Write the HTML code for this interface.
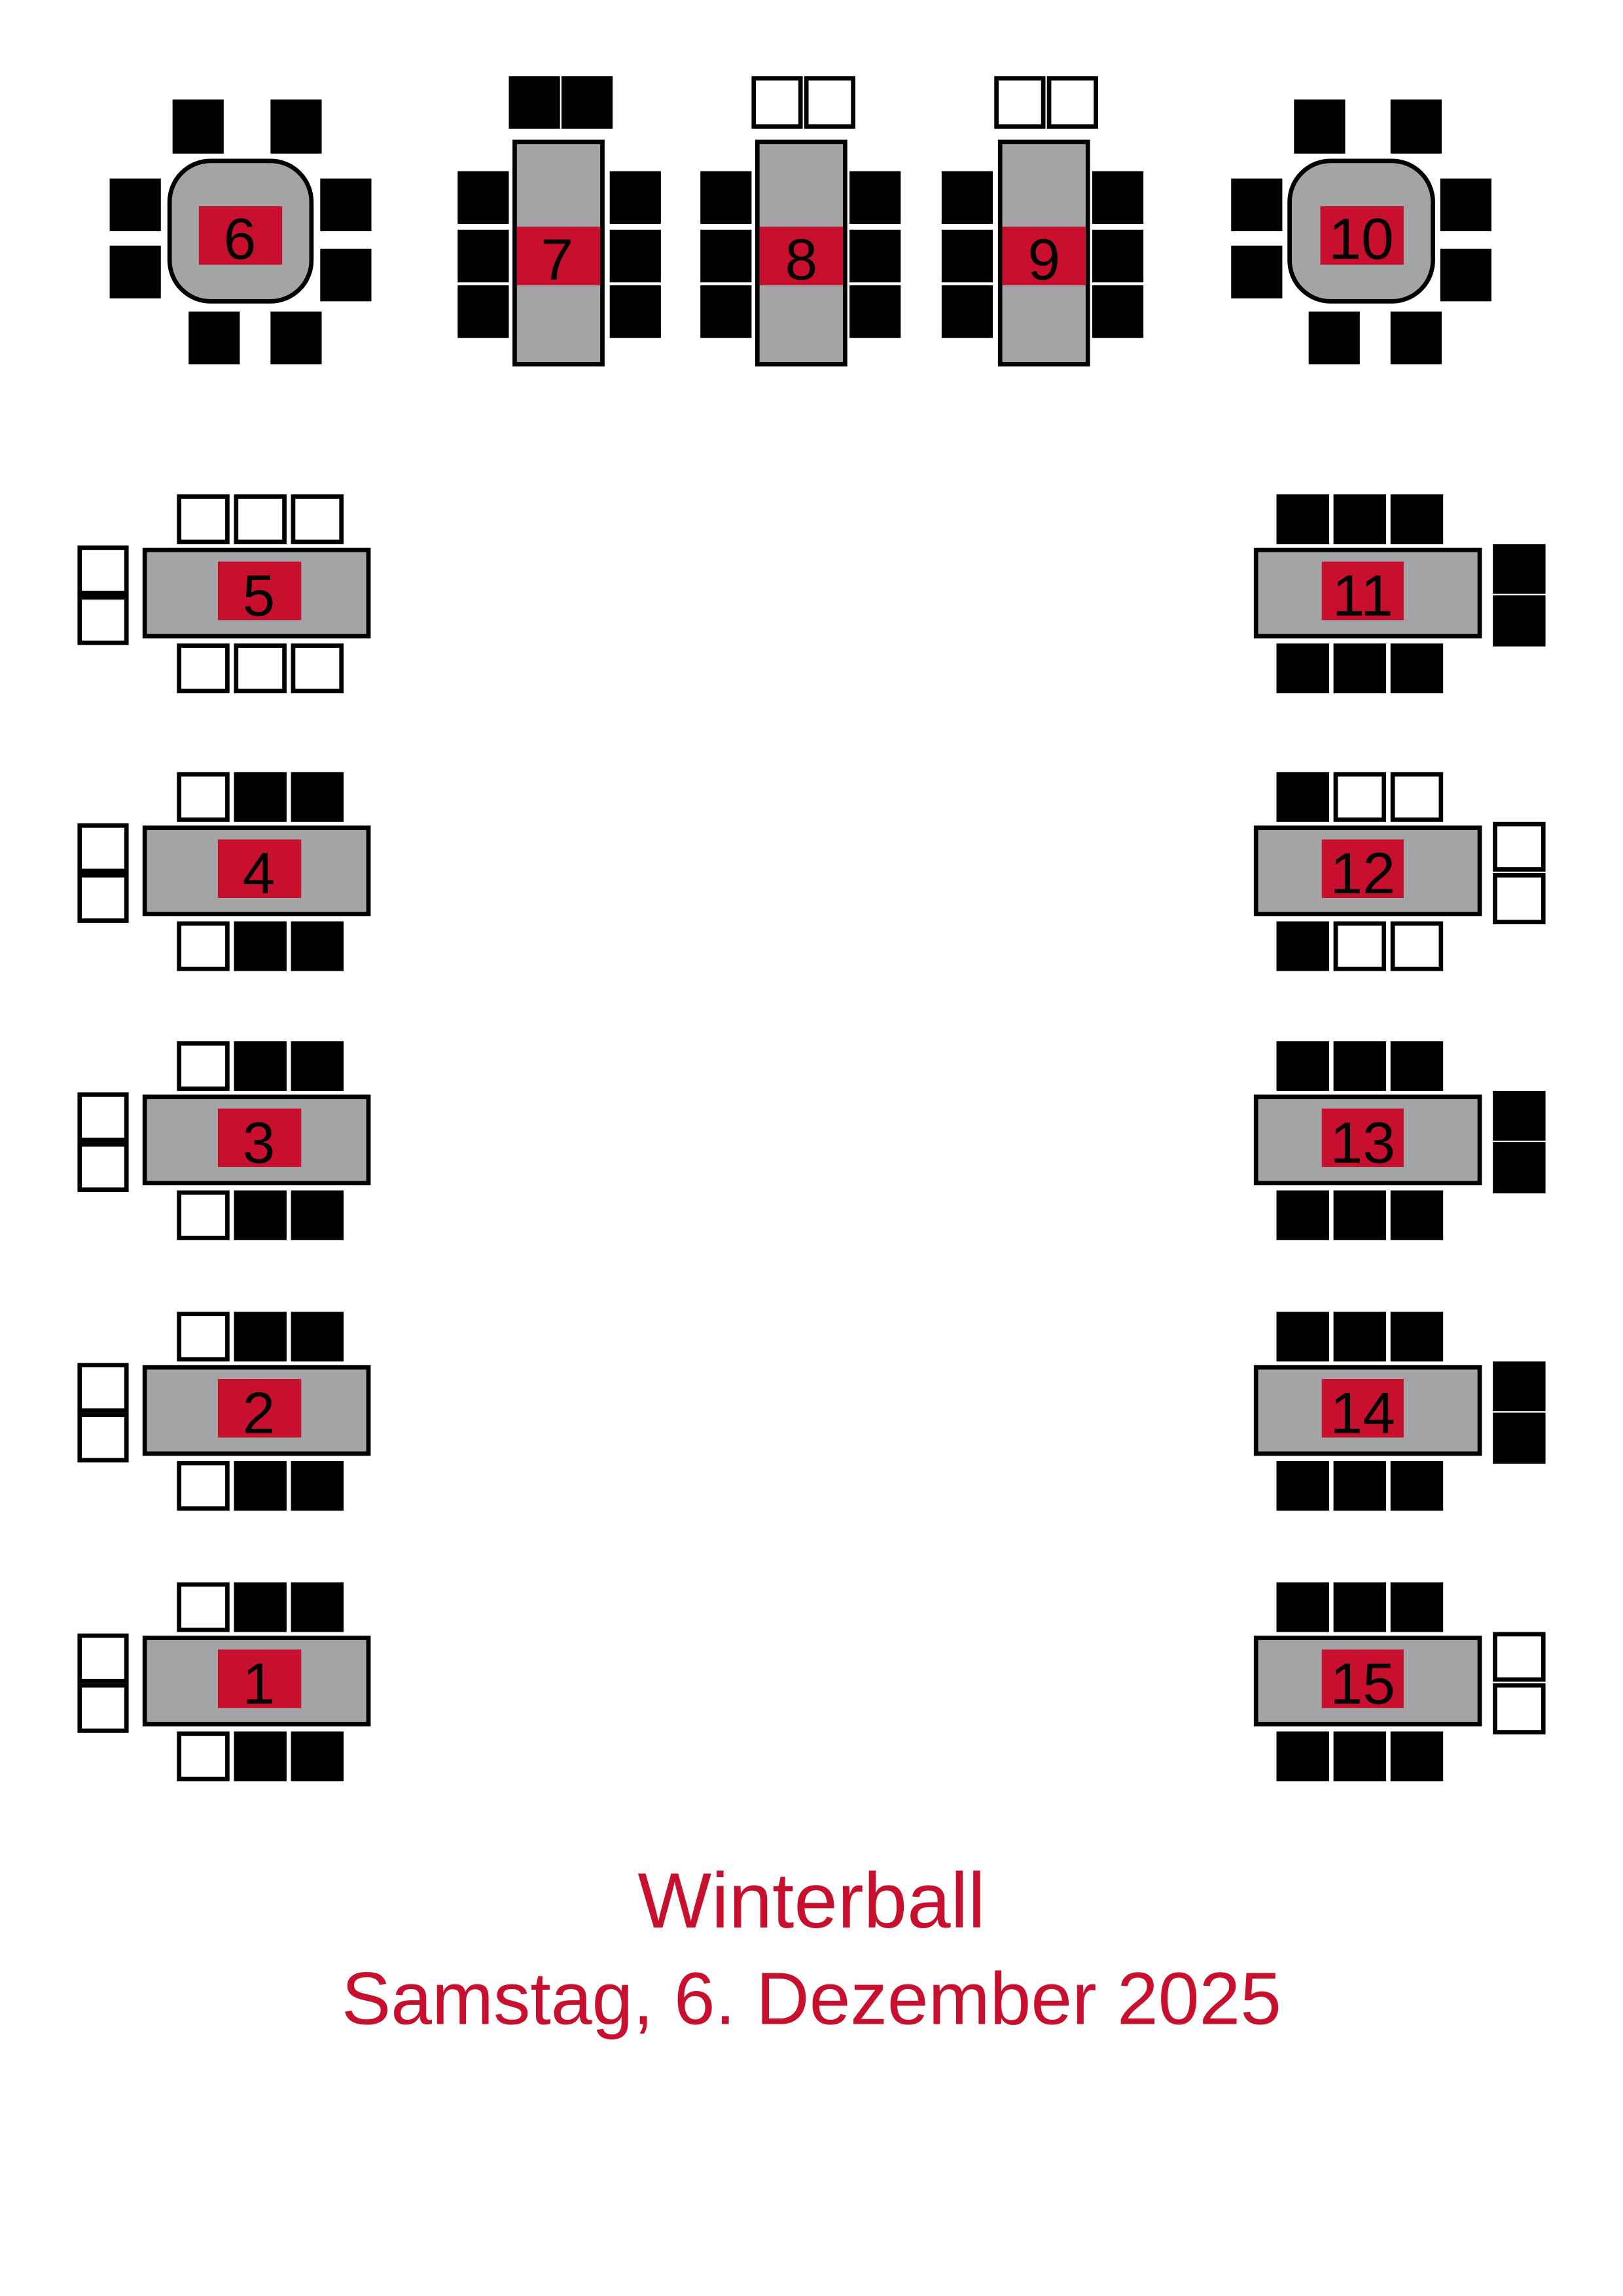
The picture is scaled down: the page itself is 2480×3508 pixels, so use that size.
<!DOCTYPE html>
<html><head><meta charset="utf-8"><style>html,body{margin:0;padding:0;background:#fff}svg{display:block}</style></head><body>
<svg width="2480" height="3508" viewBox="0 0 1110 1570" xmlns="http://www.w3.org/2000/svg" font-family="Liberation Sans, sans-serif">
<defs>
<style>.b{fill:#000}.w{fill:#fff;stroke:#000;stroke-width:3}.t{fill:#a3a4a6;stroke:#000;stroke-width:3}.r{fill:#c8102e}.n{font-size:40px;fill:#000;text-anchor:middle}</style>
</defs>
<!-- Table 6 -->
<rect class="b" x="118" y="68" width="35" height="37"/><rect class="b" x="185" y="68" width="35" height="37"/>
<rect class="b" x="75" y="122" width="35" height="36"/><rect class="b" x="75" y="168" width="35" height="36"/>
<rect class="b" x="219" y="122" width="35" height="36"/><rect class="b" x="219" y="170" width="35" height="36"/>
<rect class="b" x="129" y="213" width="35" height="36"/><rect class="b" x="185" y="213" width="35" height="36"/>
<rect class="t" x="116" y="110" width="97" height="96" rx="28"/>
<rect class="r" x="136" y="141" width="57" height="40"/>
<text class="n" x="164" y="177">6</text>
<!-- Table 10 -->
<rect class="b" x="885" y="68" width="35" height="37"/><rect class="b" x="951" y="68" width="35" height="37"/>
<rect class="b" x="842" y="122" width="35" height="36"/><rect class="b" x="842" y="168" width="35" height="36"/>
<rect class="b" x="985" y="122" width="35" height="36"/><rect class="b" x="985" y="170" width="35" height="36"/>
<rect class="b" x="895" y="213" width="35" height="36"/><rect class="b" x="951" y="213" width="35" height="36"/>
<rect class="t" x="882" y="110" width="98" height="96" rx="28"/>
<rect class="r" x="903" y="141" width="57" height="40"/>
<text class="n" x="931" y="177">10</text>
<!-- Table 7 -->
<rect class="b" x="348" y="52" width="35" height="36"/><rect class="b" x="384" y="52" width="35" height="36"/>
<rect class="b" x="313" y="117" width="35" height="36"/><rect class="b" x="313" y="157" width="35" height="36"/><rect class="b" x="313" y="195" width="35" height="36"/>
<rect class="b" x="417" y="117" width="35" height="36"/><rect class="b" x="417" y="157" width="35" height="36"/><rect class="b" x="417" y="195" width="35" height="36"/>
<rect class="t" x="352" y="97" width="60" height="152"/>
<rect class="r" x="353.5" y="155" width="57" height="40"/>
<text class="n" x="381" y="191">7</text>
<!-- Table 8 -->
<rect class="w" x="515.5" y="53.5" width="32" height="33"/><rect class="w" x="551.5" y="53.5" width="32" height="33"/>
<rect class="b" x="479" y="117" width="35" height="36"/><rect class="b" x="479" y="157" width="35" height="36"/><rect class="b" x="479" y="195" width="35" height="36"/>
<rect class="b" x="581" y="117" width="35" height="36"/><rect class="b" x="581" y="157" width="35" height="36"/><rect class="b" x="581" y="195" width="35" height="36"/>
<rect class="t" x="518" y="97" width="60" height="152"/>
<rect class="r" x="519.5" y="155" width="57" height="40"/>
<text class="n" x="548" y="191">8</text>
<!-- Table 9 -->
<rect class="w" x="681.5" y="53.5" width="32" height="33"/><rect class="w" x="717.5" y="53.5" width="32" height="33"/>
<rect class="b" x="644" y="117" width="35" height="36"/><rect class="b" x="644" y="157" width="35" height="36"/><rect class="b" x="644" y="195" width="35" height="36"/>
<rect class="b" x="747" y="117" width="35" height="36"/><rect class="b" x="747" y="157" width="35" height="36"/><rect class="b" x="747" y="195" width="35" height="36"/>
<rect class="t" x="684" y="97" width="60" height="152"/>
<rect class="r" x="685.5" y="155" width="57" height="40"/>
<text class="n" x="714" y="191">9</text>

<g transform="translate(0,376)">
<rect class="w" x="122.5" y="-36.5" width="33" height="31"/><rect class="w" x="161.5" y="-36.5" width="33" height="31"/><rect class="w" x="200.5" y="-36.5" width="33" height="31"/>
<rect class="w" x="122.5" y="65.5" width="33" height="31"/><rect class="w" x="161.5" y="65.5" width="33" height="31"/><rect class="w" x="200.5" y="65.5" width="33" height="31"/>
<rect class="w" x="54.5" y="-1.5" width="32" height="31"/><rect class="w" x="54.5" y="32.5" width="32" height="31"/>
<rect class="t" x="99" y="0" width="153" height="59"/><rect class="r" x="149" y="8" width="57" height="40"/>
<text class="n" x="177" y="45">5</text></g>
<g transform="translate(0,566)">
<rect class="w" x="122.5" y="-36.5" width="33" height="31"/><rect class="b" x="160" y="-38" width="36" height="34"/><rect class="b" x="199" y="-38" width="36" height="34"/>
<rect class="w" x="122.5" y="65.5" width="33" height="31"/><rect class="b" x="160" y="64" width="36" height="34"/><rect class="b" x="199" y="64" width="36" height="34"/>
<rect class="w" x="54.5" y="-1.5" width="32" height="31"/><rect class="w" x="54.5" y="32.5" width="32" height="31"/>
<rect class="t" x="99" y="0" width="153" height="59"/><rect class="r" x="149" y="8" width="57" height="40"/>
<text class="n" x="177" y="45">4</text></g>
<g transform="translate(0,750)">
<rect class="w" x="122.5" y="-36.5" width="33" height="31"/><rect class="b" x="160" y="-38" width="36" height="34"/><rect class="b" x="199" y="-38" width="36" height="34"/>
<rect class="w" x="122.5" y="65.5" width="33" height="31"/><rect class="b" x="160" y="64" width="36" height="34"/><rect class="b" x="199" y="64" width="36" height="34"/>
<rect class="w" x="54.5" y="-1.5" width="32" height="31"/><rect class="w" x="54.5" y="32.5" width="32" height="31"/>
<rect class="t" x="99" y="0" width="153" height="59"/><rect class="r" x="149" y="8" width="57" height="40"/>
<text class="n" x="177" y="45">3</text></g>
<g transform="translate(0,935)">
<rect class="w" x="122.5" y="-36.5" width="33" height="31"/><rect class="b" x="160" y="-38" width="36" height="34"/><rect class="b" x="199" y="-38" width="36" height="34"/>
<rect class="w" x="122.5" y="65.5" width="33" height="31"/><rect class="b" x="160" y="64" width="36" height="34"/><rect class="b" x="199" y="64" width="36" height="34"/>
<rect class="w" x="54.5" y="-1.5" width="32" height="31"/><rect class="w" x="54.5" y="32.5" width="32" height="31"/>
<rect class="t" x="99" y="0" width="153" height="59"/><rect class="r" x="149" y="8" width="57" height="40"/>
<text class="n" x="177" y="45">2</text></g>
<g transform="translate(0,1120)">
<rect class="w" x="122.5" y="-36.5" width="33" height="31"/><rect class="b" x="160" y="-38" width="36" height="34"/><rect class="b" x="199" y="-38" width="36" height="34"/>
<rect class="w" x="122.5" y="65.5" width="33" height="31"/><rect class="b" x="160" y="64" width="36" height="34"/><rect class="b" x="199" y="64" width="36" height="34"/>
<rect class="w" x="54.5" y="-1.5" width="32" height="31"/><rect class="w" x="54.5" y="32.5" width="32" height="31"/>
<rect class="t" x="99" y="0" width="153" height="59"/><rect class="r" x="149" y="8" width="57" height="40"/>
<text class="n" x="177" y="45">1</text></g>

<g transform="translate(0,376)">
<rect class="b" x="873" y="-38" width="36" height="34"/><rect class="b" x="912" y="-38" width="36" height="34"/><rect class="b" x="951" y="-38" width="36" height="34"/>
<rect class="b" x="873" y="64" width="36" height="34"/><rect class="b" x="912" y="64" width="36" height="34"/><rect class="b" x="951" y="64" width="36" height="34"/>
<rect class="b" x="1021" y="-4" width="36" height="34"/><rect class="b" x="1021" y="31" width="36" height="35"/>
<rect class="t" x="859" y="0" width="153" height="59"/><rect class="r" x="904" y="8" width="56" height="40"/>
<text class="n" x="932" y="45">11</text></g>
<g transform="translate(0,566)">
<rect class="b" x="873" y="-38" width="36" height="34"/><rect class="w" x="913.5" y="-36.5" width="33" height="31"/><rect class="w" x="952.5" y="-36.5" width="33" height="31"/>
<rect class="b" x="873" y="64" width="36" height="34"/><rect class="w" x="913.5" y="65.5" width="33" height="31"/><rect class="w" x="952.5" y="65.5" width="33" height="31"/>
<rect class="w" x="1022.5" y="-2.5" width="33" height="31"/><rect class="w" x="1022.5" y="32.5" width="33" height="32"/>
<rect class="t" x="859" y="0" width="153" height="59"/><rect class="r" x="904" y="8" width="56" height="40"/>
<text class="n" x="932" y="45">12</text></g>
<g transform="translate(0,750)">
<rect class="b" x="873" y="-38" width="36" height="34"/><rect class="b" x="912" y="-38" width="36" height="34"/><rect class="b" x="951" y="-38" width="36" height="34"/>
<rect class="b" x="873" y="64" width="36" height="34"/><rect class="b" x="912" y="64" width="36" height="34"/><rect class="b" x="951" y="64" width="36" height="34"/>
<rect class="b" x="1021" y="-4" width="36" height="34"/><rect class="b" x="1021" y="31" width="36" height="35"/>
<rect class="t" x="859" y="0" width="153" height="59"/><rect class="r" x="904" y="8" width="56" height="40"/>
<text class="n" x="932" y="45">13</text></g>
<g transform="translate(0,935)">
<rect class="b" x="873" y="-38" width="36" height="34"/><rect class="b" x="912" y="-38" width="36" height="34"/><rect class="b" x="951" y="-38" width="36" height="34"/>
<rect class="b" x="873" y="64" width="36" height="34"/><rect class="b" x="912" y="64" width="36" height="34"/><rect class="b" x="951" y="64" width="36" height="34"/>
<rect class="b" x="1021" y="-4" width="36" height="34"/><rect class="b" x="1021" y="31" width="36" height="35"/>
<rect class="t" x="859" y="0" width="153" height="59"/><rect class="r" x="904" y="8" width="56" height="40"/>
<text class="n" x="932" y="45">14</text></g>
<g transform="translate(0,1120)">
<rect class="b" x="873" y="-38" width="36" height="34"/><rect class="b" x="912" y="-38" width="36" height="34"/><rect class="b" x="951" y="-38" width="36" height="34"/>
<rect class="b" x="873" y="64" width="36" height="34"/><rect class="b" x="912" y="64" width="36" height="34"/><rect class="b" x="951" y="64" width="36" height="34"/>
<rect class="w" x="1022.5" y="-2.5" width="33" height="31"/><rect class="w" x="1022.5" y="32.5" width="33" height="32"/>
<rect class="t" x="859" y="0" width="153" height="59"/><rect class="r" x="904" y="8" width="56" height="40"/>
<text class="n" x="932" y="45">15</text></g>

<text x="555" y="1318" text-anchor="middle" font-size="53.5" fill="#c8102e">Winterball</text>
<text x="555" y="1384" text-anchor="middle" font-size="50.5" fill="#c8102e">Samstag, 6. Dezember 2025</text>
</svg>
</body></html>
